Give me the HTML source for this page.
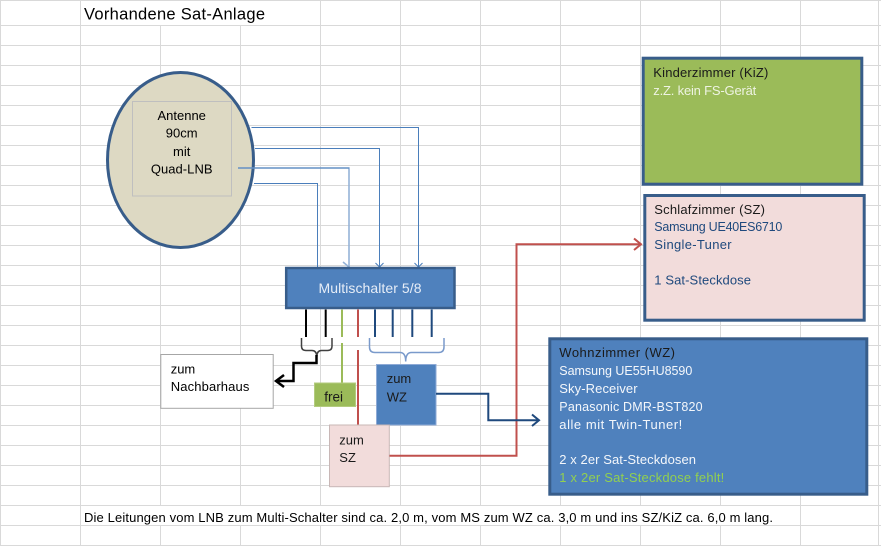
<!DOCTYPE html>
<html><head><meta charset="utf-8"><style>
html,body{margin:0;padding:0;background:#fff;}
svg{display:block;}
text{font-family:"Liberation Sans",Arial,sans-serif;}
</style></head><body>
<svg width="881" height="546" viewBox="0 0 881 546" xmlns="http://www.w3.org/2000/svg">
<rect width="881" height="546" fill="#fff"/>
<!-- grid -->
<g stroke="#d9d9d9" stroke-width="1" fill="none">
<path d="M0 0.5H881 M0 25.5H881 M0 45.5H881 M0 65.5H881 M0 85.5H881 M0 105.5H881 M0 125.5H881 M0 145.5H881 M0 165.5H881 M0 185.5H881 M0 205.5H881 M0 225.5H881 M0 245.5H881 M0 265.5H881 M0 285.5H881 M0 305.5H881 M0 325.5H881 M0 345.5H881 M0 365.5H881 M0 385.5H881 M0 405.5H881 M0 425.5H881 M0 445.5H881 M0 465.5H881 M0 485.5H881 M0 505.5H881 M0 525.5H881 M0 545.5H881"/>
<path d="M0.5 0V546 M80.5 0V546 M800.5 0V546 M878.5 0V546
M160.5 25V505 M160.5 525V546 M240.5 25V505 M240.5 525V546
M320.5 0V505 M320.5 525V546 M400.5 0V505 M400.5 525V546 M480.5 0V505 M480.5 525V546
M560.5 0V505 M560.5 525V546 M640.5 0V505 M640.5 525V546 M720.5 0V505 M720.5 525V546"/>
</g>

<!-- title -->
<text x="84" y="19.5" font-size="16.5" fill="#000" textLength="181" lengthAdjust="spacing">Vorhandene Sat-Anlage</text>

<!-- antenna ellipse -->
<ellipse cx="180.5" cy="160" rx="73" ry="87.5" fill="#ddd9c3" stroke="#385d8a" stroke-width="3"/>
<rect x="132.5" y="101.5" width="99" height="94.5" fill="none" stroke="#bfbfbf" stroke-width="1"/>
<g font-size="13" fill="#000" text-anchor="middle">
<text x="181.7" y="120">Antenne</text>
<text x="181.7" y="137.5">90cm</text>
<text x="181.7" y="156">mit</text>
<text x="181.7" y="173.5" textLength="61.7" lengthAdjust="spacing">Quad-LNB</text>
</g>

<!-- LNB connectors -->
<g fill="none" stroke="#4a7ebb" stroke-width="1">
<path d="M251.5 127.5H418.5V267"/>
<path d="M255 148.5H379.5V267"/>
<path d="M254 183.5H317.5V290"/>
<path d="M414.5 263L418.5 267L422.5 263 M375.5 263L379.5 267L383.5 263"/>
</g>
<g fill="none" stroke="#95b3d7" stroke-width="1.6">
<path d="M238 168H349V267"/>
<path d="M343 262L349 267"/>
</g>
<path d="M238 168H349" stroke="#4a7ebb" stroke-width="1" fill="none"/>

<!-- Multischalter -->
<rect x="286.2" y="268" width="168.3" height="40" fill="#4f81bd" stroke="#385d8a" stroke-width="2.5"/>
<text x="370" y="293" font-size="14" fill="#e6edf7" text-anchor="middle" textLength="103" lengthAdjust="spacing">Multischalter 5/8</text>

<!-- outputs -->
<g fill="none" stroke-width="2">
<path d="M306 309.5V337 M325.7 309.5V337" stroke="#000"/>
<path d="M342 309.5V337 M342 343V383" stroke="#9bbb59"/>
<path d="M358 309.5V337 M358 350V425" stroke="#c0504d"/>
<path d="M375 309.5V337 M392.7 309.5V337 M412.3 309.5V337 M431.7 309.5V337" stroke="#1f497d"/>
</g>

<!-- braces -->
<path d="M301.5 338V346Q301.5 350.5 306 350.5H312Q316.5 350.5 316.8 356.5Q317 350.5 321.5 350.5H327.5Q332 350.5 332 346V338" fill="none" stroke="#404040" stroke-width="1.5"/>
<path d="M369.5 338V347Q369.5 352.5 375 352.5H400Q405.7 352.5 405.7 361.5Q405.7 352.5 411.5 352.5H438.5Q444 352.5 444 347V338" fill="none" stroke="#7a9acb" stroke-width="1.5"/>

<!-- black arrow to Nachbarhaus -->
<path d="M316.5 355V363H293.5V381H276" fill="none" stroke="#000" stroke-width="2.5"/>
<path d="M284 375L276 381L284 387" fill="none" stroke="#000" stroke-width="2.5"/>

<!-- Nachbarhaus box -->
<rect x="160.8" y="354.5" width="112.4" height="53.8" fill="#fff" stroke="#a6a6a6" stroke-width="1"/>
<text x="170.7" y="373.5" font-size="13" fill="#000">zum</text>
<text x="170.7" y="391" font-size="13" fill="#000" textLength="78.7" lengthAdjust="spacing">Nachbarhaus</text>

<!-- frei box -->
<rect x="314.5" y="383" width="41" height="23.5" fill="#9bbb59" stroke="#b3cb7e" stroke-width="1"/>
<text x="324.3" y="401.5" font-size="13.5" fill="#1a1a1a">frei</text>

<!-- zum WZ box -->
<rect x="376.5" y="364.5" width="59.5" height="60.5" fill="#4f81bd" stroke="#8eaad6" stroke-width="1"/>
<text x="386.7" y="383" font-size="13" fill="#1a1a1a">zum</text>
<text x="386.7" y="401.5" font-size="13" fill="#1a1a1a">WZ</text>

<!-- zum SZ box -->
<rect x="329.5" y="425" width="59.8" height="61.7" fill="#f2dcdb" stroke="#c8b7b6" stroke-width="1"/>
<text x="339.3" y="444.5" font-size="13" fill="#1a1a1a">zum</text>
<text x="339.3" y="462" font-size="13" fill="#1a1a1a">SZ</text>

<!-- red connector to SZ -->
<path d="M389.5 455.7H516.5V244.3H641" fill="none" stroke="#c0504d" stroke-width="2"/>
<path d="M634 238.5L641 244.3L634 250" fill="none" stroke="#c0504d" stroke-width="2"/>

<!-- blue connector to WZ -->
<path d="M436 393.7H488.3V420.3H539" fill="none" stroke="#1f497d" stroke-width="2"/>
<path d="M532 414.5L539 420.3L532 426" fill="none" stroke="#1f497d" stroke-width="2"/>

<!-- Kinderzimmer -->
<rect x="643.2" y="58.2" width="218.6" height="126" fill="#9bbb59" stroke="#385d8a" stroke-width="3"/>
<text x="653.3" y="77" font-size="13" fill="#1a1a1a" textLength="115" lengthAdjust="spacing">Kinderzimmer (KiZ)</text>
<text x="653.3" y="95" font-size="13" fill="#eef3e2" textLength="103" lengthAdjust="spacing">z.Z. kein FS-Gerät</text>

<!-- Schlafzimmer -->
<rect x="644.8" y="195.5" width="219.4" height="124.7" fill="#f2dcdb" stroke="#385d8a" stroke-width="3"/>
<text x="654.3" y="214" font-size="13" fill="#1a1a1a" textLength="110.7" lengthAdjust="spacing">Schlafzimmer (SZ)</text>
<text x="654.3" y="231" font-size="12.5" fill="#1f497d" textLength="128" lengthAdjust="spacing">Samsung UE40ES6710</text>
<text x="654.3" y="249" font-size="13" fill="#1f497d" textLength="77.3" lengthAdjust="spacing">Single-Tuner</text>
<text x="654.3" y="284.5" font-size="13" fill="#1f497d" textLength="96.7" lengthAdjust="spacing">1 Sat-Steckdose</text>

<!-- Wohnzimmer -->
<rect x="549.8" y="338.8" width="317" height="155.4" fill="#4f81bd" stroke="#385d8a" stroke-width="3"/>
<text x="559.3" y="357" font-size="13" fill="#1a1a1a" textLength="115.7" lengthAdjust="spacing">Wohnzimmer (WZ)</text>
<g font-size="13" fill="#f4f7fb">
<text x="559.3" y="375" font-size="12.5" textLength="133" lengthAdjust="spacing">Samsung UE55HU8590</text>
<text x="559.3" y="393" textLength="78.3" lengthAdjust="spacing">Sky-Receiver</text>
<text x="559.3" y="411" font-size="12.5" textLength="143.3" lengthAdjust="spacing">Panasonic  DMR-BST820</text>
<text x="559.3" y="429" textLength="123" lengthAdjust="spacing">alle mit Twin-Tuner!</text>
<text x="559.3" y="464" textLength="136.7" lengthAdjust="spacing">2 x 2er Sat-Steckdosen</text>
</g>
<text x="559.3" y="482" font-size="13" fill="#92d050" textLength="165" lengthAdjust="spacing">1 x 2er Sat-Steckdose fehlt!</text>

<!-- bottom note -->
<text x="84" y="522" font-size="13" fill="#000" textLength="689" lengthAdjust="spacing">Die Leitungen vom LNB zum Multi-Schalter sind ca. 2,0 m, vom MS zum WZ ca. 3,0 m und ins SZ/KiZ ca. 6,0 m lang.</text>
</svg>
</body></html>
